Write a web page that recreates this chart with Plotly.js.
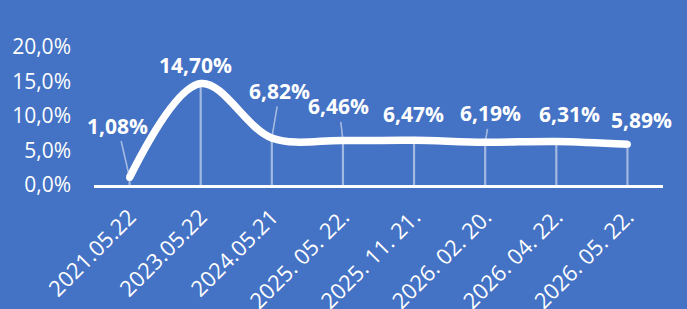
<!DOCTYPE html>
<html>
<head>
<meta charset="utf-8">
<script src="https://cdn.plot.ly/plotly-3.0.1.min.js"></script>
<style>
html,body{margin:0;padding:0;background:#4472C4;}
#chart{width:687px;height:309px;}
</style>
</head>
<body>
<div id="chart"></div>
<script>
const categories = ["2021.05.22", "2023.05.22", "2024.05.21", "2025. 05. 22.", "2025. 11. 21.", "2026. 02. 20.", "2026. 04. 22.", "2026. 05. 22."];
const values = [0.0108, 0.1470, 0.0682, 0.0646, 0.0647, 0.0619, 0.0631, 0.0589];
const labels = ["1,08%", "14,70%", "6,82%", "6,46%", "6,47%", "6,19%", "6,31%", "5,89%"];
const yTickVals = [0, 0.05, 0.10, 0.15, 0.20];
const yTickText = ["0,0%", "5,0%", "10,0%", "15,0%", "20,0%"];

// label placement (px offsets) — styling only
const labelPlace = [
  {arrow: true, ax: -12, ay: -52},
  {arrow: false, xs: -5, ys: 19},
  {arrow: true, ax: 8, ay: -47},
  {arrow: true, ax: -4, ay: -34},
  {arrow: false, xs: -1, ys: 26},
  {arrow: true, ax: 5, ay: -29},
  {arrow: false, xs: 13, ys: 27},
  {arrow: false, xs: 14, ys: 24}
];

const white = '#FFFFFF';
const traces = [
  {
    x: categories, y: values, type: 'scatter', mode: 'lines',
    line: {color: 'rgba(0,0,0,0)', width: 0},
    error_y: {type: 'data', symmetric: false, array: values.map(() => 0), arrayminus: values,
              color: 'rgba(255,255,255,0.5)', thickness: 2.2, width: 0},
    hoverinfo: 'skip', showlegend: false
  },
  {
    x: categories, y: values, type: 'scatter', mode: 'lines+markers',
    line: {color: white, width: 7.5, shape: 'spline', smoothing: 1},
    marker: {color: white, size: 7},
    showlegend: false
  }
];

const annotations = values.map((v, i) => {
  const p = labelPlace[i];
  const a = {
    x: categories[i], y: v, xref: 'x', yref: 'y', text: labels[i],
    font: {family: 'Open Sans, sans-serif', size: 21, color: white, weight: 'bold'}
  };
  if (p.arrow) {
    Object.assign(a, {showarrow: true, arrowhead: 0, ax: p.ax, ay: p.ay,
      arrowcolor: 'rgba(230,235,245,0.6)', arrowwidth: 1.6, standoff: 3});
  } else {
    Object.assign(a, {showarrow: false, xshift: p.xs, yshift: p.ys});
  }
  return a;
});

const layout = {
  width: 687, height: 309,
  paper_bgcolor: '#4472C4', plot_bgcolor: '#4472C4',
  margin: {l: 94, r: 24, t: 47, b: 124, pad: 0},
  font: {family: 'Open Sans, sans-serif', color: white},
  xaxis: {
    type: 'category', range: [-0.5, 7.5], showgrid: false, zeroline: false,
    showline: true, linecolor: white, linewidth: 2.5,
    ticks: '', tickangle: -45, tickfont: {size: 22, color: white},
    ticklabelstandoff: 8
  },
  yaxis: {
    range: [0, 0.2], showgrid: false, zeroline: false, showline: false,
    tickvals: yTickVals, ticktext: yTickText, ticks: '',
    tickfont: {size: 21, color: white}, ticklabelstandoff: 22
  },
  annotations: annotations,
  showlegend: false
};

Plotly.newPlot('chart', traces, layout, {displayModeBar: false, staticPlot: true});
</script>
</body>
</html>
